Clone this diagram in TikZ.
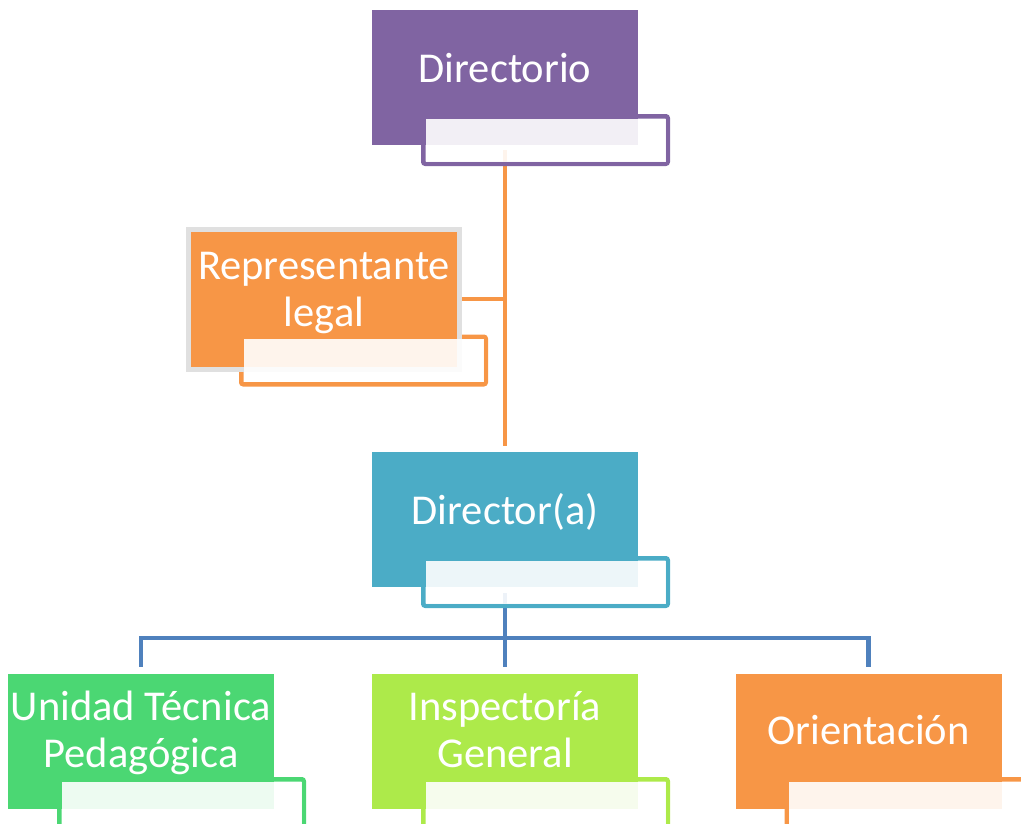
\documentclass[tikz,border=0pt]{standalone}
\usepackage{fontspec}
\setmainfont{Carlito}
\pgfdeclarelayer{bg}
\pgfsetlayers{bg,main}
\definecolor{cpurple}{HTML}{8064A2}
\definecolor{corange}{HTML}{F79646}
\definecolor{cteal}{HTML}{4BACC6}
\definecolor{cblue}{HTML}{4F81BD}
\definecolor{cgreen}{HTML}{4BD773}
\definecolor{clime}{HTML}{ADEA4A}
\definecolor{cgray}{HTML}{E0E0E0}
\begin{document}
\begin{tikzpicture}[x=1pt,y=-1pt,
  mainbox/.style={rectangle,inner sep=0pt,outer sep=0pt,minimum width=266pt,minimum height=135pt},
  tagbox/.style={rectangle,inner sep=0pt,outer sep=0pt,draw=#1,line width=4.5pt,rounded corners=2pt,minimum width=244.5pt,minimum height=47.5pt},
  tagfill/.style={rectangle,inner sep=0pt,outer sep=0pt,fill=white,fill opacity=0.9,minimum width=240pt,minimum height=43pt},
  lbl/.style={text=white,font=\fontsize{42.5}{47}\selectfont,inner sep=0pt,align=center},
  conn/.style={line width=4.5pt}]
\useasboundingbox (0,0) rectangle (1021,823);

% Directorio
\node[tagbox=cpurple] (dirtag) at (545.5,140) {};
\node[mainbox,fill=cpurple] (dir) at (505,77.5) {};
\node[tagfill] (dirtagin) at (dirtag) {};
\node[lbl,anchor=base] (dirtxt) at (505,82) {Directorio};

% Representante legal
\node[tagbox=corange] (reptag) at (363.5,360.5) {};
\node[mainbox,fill=corange,draw=cgray,line width=5pt,minimum width=271pt,minimum height=140pt] (rep) at (324,299) {};
\node[tagfill] (reptagin) at (reptag) {};
\node[lbl,anchor=base] (reptxt) at (324,326) {Representante\\legal};

% Director(a)
\node[tagbox=cteal] (mgrtag) at (545.5,582) {};
\node[mainbox,fill=cteal] (mgr) at (505,519.5) {};
\node[tagfill] (mgrtagin) at (mgrtag) {};
\node[lbl,anchor=base] (mgrtxt) at (505,524) {Director(a)};

% Unidad Tecnica Pedagogica
\node[tagbox=cgreen] (utptag) at (181.5,803) {};
\node[mainbox,fill=cgreen] (utp) at (141,741) {};
\node[tagfill] (utptagin) at (utptag) {};
\node[lbl,anchor=base] (utptxt) at (141,767) {Unidad Técnica\\Pedagógica};

% Inspectoria General
\node[tagbox=clime] (instag) at (545.5,803) {};
\node[mainbox,fill=clime] (ins) at (505,741) {};
\node[tagfill] (instagin) at (instag) {};
\node[lbl,anchor=base] (instxt) at (505,767) {Inspectoría\\General};

% Orientacion
\node[tagbox=corange] (oritag) at (909,803) {};
\node[mainbox,fill=corange] (ori) at (868.5,741) {};
\node[tagfill] (oritagin) at (oritag) {};
\node[lbl,anchor=base] (oritxt) at (868.5,744) {Orientación};

\begin{pgfonlayer}{bg}
  \draw[conn,corange] ([yshift=-5pt]dir.south) -- ([yshift=6pt]mgr.north);
  \draw[conn,corange] (rep.east) -- (rep.east -| dir.south);
  \coordinate (bus) at (505,638);
  \draw[conn,cblue] ([yshift=-6pt]mgr.south) -- (bus);
  \draw[conn,cblue] ([yshift=7pt]utp.north) |- (bus) -| ([yshift=7pt]ori.north);
  \draw[conn,cblue] (bus) -- ([yshift=7pt]ins.north);
\end{pgfonlayer}
\end{tikzpicture}
\end{document}
